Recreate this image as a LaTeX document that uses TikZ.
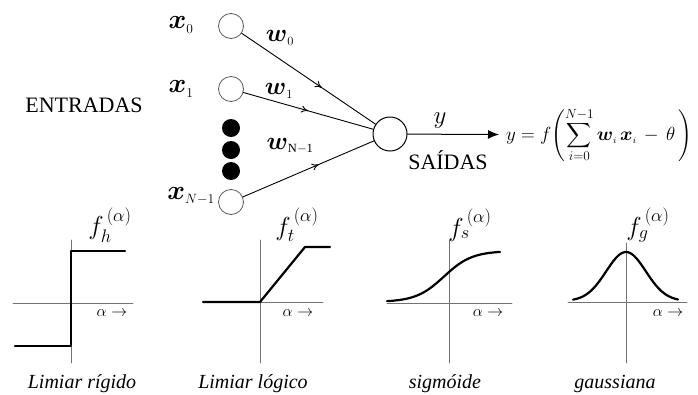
\RequirePackage{fix-cm}
\documentclass[tikz,border=0pt]{standalone}
\usepackage{amsmath}
\usepackage{exscale}
\usepackage{fontspec}
\setmainfont{Liberation Serif}
\usetikzlibrary{arrows.meta,decorations.markings}

\begin{document}
\begin{tikzpicture}[x=1pt,y=-1pt,line cap=round,line join=round,
  inp/.style={circle,draw=black!65,line width=0.8pt,minimum size=25pt,inner sep=0pt},
  outn/.style={circle,draw=black,line width=1pt,minimum size=34pt,inner sep=0pt},
  dot/.style={circle,fill=black,minimum size=18pt,inner sep=0pt},
  varlab/.style={font=\fontsize{27}{29}\selectfont,inner sep=0pt},
  wlab/.style={font=\fontsize{25}{27}\selectfont,inner sep=0pt},
  txt/.style={font=\fontsize{22}{24}\selectfont,inner sep=0pt},
  formtxt/.style={font=\fontsize{19}{21}\selectfont,inner sep=0pt},
  caption/.style={font=\fontsize{20}{22}\selectfont\itshape,inner sep=0pt},
  flab/.style={font=\fontsize{26}{28}\selectfont,inner sep=0pt},
  alab/.style={font=\fontsize{16}{18}\selectfont,inner sep=0pt},
  wline/.style={line width=0.9pt},
  midarrow/.style={postaction={decorate,decoration={markings,
      mark=at position #1 with {\arrow{To[length=7pt,width=7pt]}}}}},
  axis/.style={draw=black!55,line width=0.7pt},
  curve/.style={line width=2.2pt}]
\useasboundingbox (0,0) rectangle (698,394);

%% neuronio
\node[inp] (i0) at (231,26) {};
\node[inp] (i1) at (231,89) {};
\node[dot] (d1) at (231,128) {};
\node[dot] (d2) at (231,150) {};
\node[dot] (d3) at (231,171) {};
\node[inp] (i2) at (231,202) {};
\node[outn] (out) at (390,134) {};

\node[varlab] (x0) at (181,25) {$\boldsymbol{x}_{\scriptscriptstyle 0}$};
\node[varlab] (x1) at (181,89) {$\boldsymbol{x}_{\scriptscriptstyle 1}$};
\node[varlab] (x2) at (191,196) {$\boldsymbol{x}_{\scriptscriptstyle N-1}$};
\node[txt] (ent) at (84,105) {ENTRADAS};

\draw[wline,midarrow=0.6] (i0) -- (out);
\draw[wline,midarrow=0.5] (i1) -- (out);
\draw[wline,midarrow=0.58] (i2) -- (out);
\node[wlab] (w0) at (280,38) {$\boldsymbol{w}_{\scriptscriptstyle 0}$};
\node[wlab] (w1) at (279,91) {$\boldsymbol{w}_{\scriptscriptstyle 1}$};
\node[wlab] (w2) at (290,146) {$\boldsymbol{w}_{\scriptscriptstyle\mathrm{N-1}}$};

\node[formtxt,anchor=west] (form) at (506,135)
  {$\displaystyle y = f\!\left(\sum_{i=0}^{N-1} \boldsymbol{w}_{\scriptscriptstyle i}\, \boldsymbol{x}_{\scriptscriptstyle i} \,-\, \theta\,\right)$};
\draw[line width=1pt,-{Latex[length=11pt,width=9pt]},shorten >=7pt] (out) -- (form);
\node[wlab] (ylab) at (440,121) {$y$};
\node[txt] (sai) at (448,160) {SAÍDAS};

%% funcoes de ativacao
% limiar rigido
\draw[axis] (13,303) -- (133,303);
\draw[axis] (71,240) -- (71,363);
\draw[curve] (15,346) -- (71,346) -- (71,251) -- (125,251);
\node[flab] (fh) at (110,225) {$f_{h}^{\,(\alpha)}$};
\node[alab] (ah) at (112,313) {$\alpha\rightarrow$};
\node[caption] (ch) at (82,384) {Limiar rígido};
% limiar logico
\draw[axis] (203,302) -- (323,302);
\draw[axis] (260,240) -- (260,363);
\draw[curve] (203,302) -- (260,302) -- (305,247) -- (330,247);
\node[flab] (ft) at (297,225) {$f_{t}^{\,(\alpha)}$};
\node[alab] (at) at (298,313) {$\alpha\rightarrow$};
\node[caption] (ct) at (253,384) {Limiar lógico};
% sigmoide
\draw[axis] (387,303) -- (512,303);
\draw[axis] (449,240) -- (449,363);
\draw[curve] plot[domain=387:500,samples=60,smooth] (\x,{302-51/(1+exp(-(\x-444)/14))});
\node[flab] (fs) at (470,225) {$f_{s}^{\,(\alpha)}$};
\node[alab] (as) at (488,313) {$\alpha\rightarrow$};
\node[caption] (cs) at (445,384) {sigmóide};
% gaussiana
\draw[axis] (568,302) -- (687,302);
\draw[axis] (626,243) -- (626,363);
\draw[curve] plot[domain=573:678,samples=60,smooth] (\x,{301-49*exp(-((\x-626)/28)^2)});
\node[flab] (fg) at (648,225) {$f_{g}^{\,(\alpha)}$};
\node[alab] (ag) at (668,313) {$\alpha\rightarrow$};
\node[caption] (cg) at (615,384) {gaussiana};
\end{tikzpicture}
\end{document}
